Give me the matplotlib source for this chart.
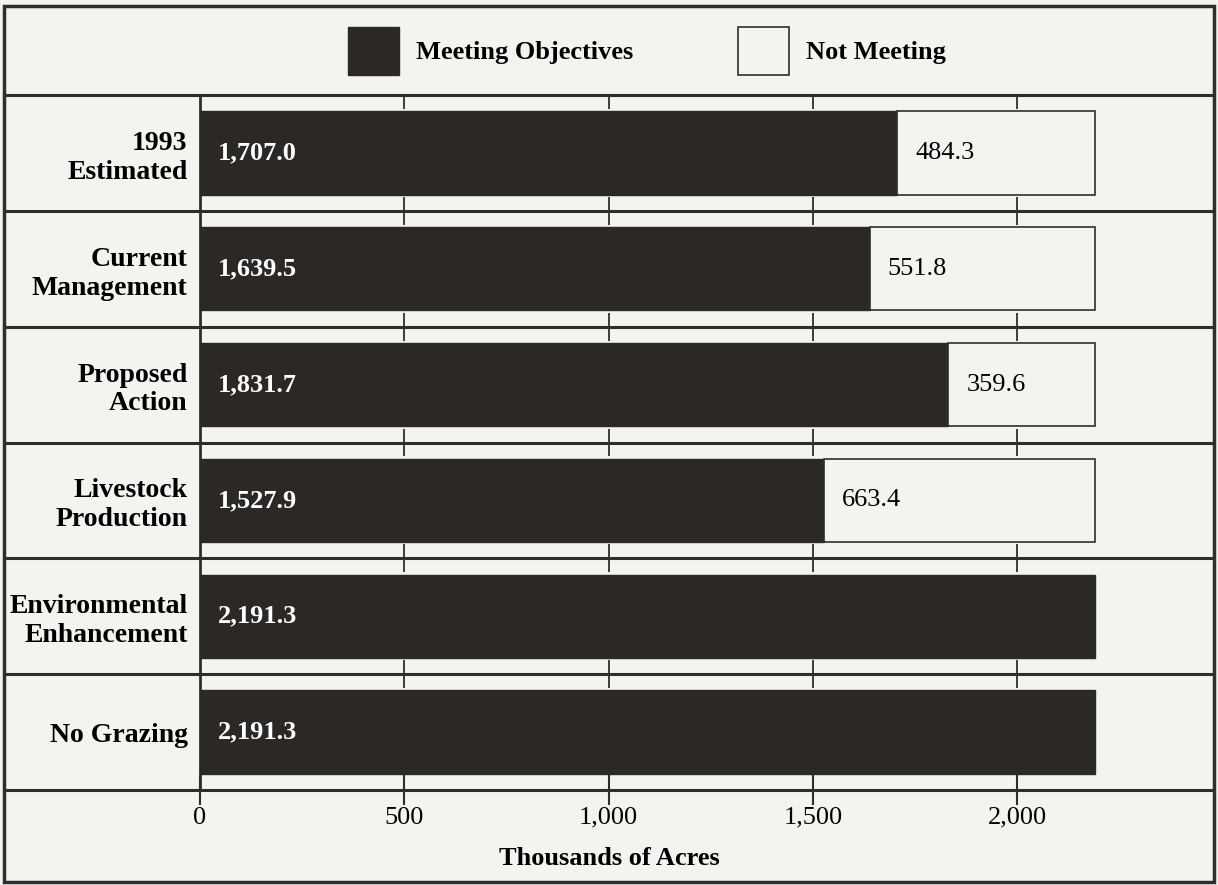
import numpy as np
import matplotlib.pyplot as plt
from matplotlib.patches import Patch, Rectangle

# data (thousands of acres)
categories = ['1993\nEstimated', 'Current\nManagement', 'Proposed\nAction',
              'Livestock\nProduction', 'Environmental\nEnhancement', 'No Grazing']
meeting = [1707.0, 1639.5, 1831.7, 1527.9, 2191.3, 2191.3]
not_meeting = [484.3, 551.8, 359.6, 663.4, 0.0, 0.0]
xticks = [0, 500, 1000, 1500, 2000]
xtick_labels = ['0', '500', '1,000', '1,500', '2,000']

plt.rcParams['font.family'] = ['Liberation Serif', 'DejaVu Serif']
plt.rcParams['font.size'] = 19

bg = '#f3f3ef'
dark = '#2b2826'
line_c = '#2e2e2e'

W, H = 1218, 885
fig = plt.figure(figsize=(W / 100, H / 100), dpi=100, facecolor=bg)

# plot area: x from 200px to 1214px, y from 95px to 790px (top-down)
ax = fig.add_axes([200 / W, (H - 790) / H, (1214 - 200) / W, (790 - 95) / H])
ax.set_facecolor(bg)
ax.set_xlim(0, 2482)
ax.set_ylim(len(categories) - 0.5, -0.5)

y = np.arange(len(categories))
bh = 0.72
ax.barh(y, meeting, height=bh, color=dark, edgecolor=dark, linewidth=1, zorder=3)
nm = np.array(not_meeting)
ax.barh(y[nm > 0], nm[nm > 0], left=np.array(meeting)[nm > 0], height=bh,
        color=bg, edgecolor=line_c, linewidth=1.2, zorder=3)

for i in range(len(categories)):
    ax.annotate(f'{meeting[i]:,.1f}', (0, i), xytext=(13, 0), textcoords='offset points',
                ha='left', va='center', color='white', fontweight='bold', zorder=4)
    if not_meeting[i] > 0:
        ax.annotate(f'{not_meeting[i]:,.1f}', (meeting[i], i), xytext=(13, 0),
                    textcoords='offset points', ha='left', va='center', color='black', zorder=4)

# spines / separators
for s in ['top', 'right', 'bottom']:
    ax.spines[s].set_visible(False)
ax.spines['left'].set_color(line_c)
ax.spines['left'].set_linewidth(2)

left_frac = (4 - 200) / (1214 - 200)
seps = np.arange(-0.5, len(categories) + 0.5, 1.0)
ax.hlines(seps, left_frac, 1, transform=ax.get_yaxis_transform(), clip_on=False,
          color=line_c, linewidth=2.2, zorder=5)

# little ticks crossing each separator
for s in seps[:-1]:
    lo = s - 0.12 if s > -0.5 else s
    ax.vlines(xticks[1:], lo, s + 0.12, color=line_c, linewidth=1.3, zorder=1)

ax.set_xticks(xticks, xtick_labels)
ax.tick_params(axis='x', direction='inout', length=22, width=1.5, color=line_c, pad=1)
ax.set_yticks(y, categories)
ax.tick_params(axis='y', length=0, pad=9)
for lab in ax.get_yticklabels():
    lab.set_fontweight('bold')
    lab.set_fontsize(20)
    lab.set_linespacing(1.2)

ax.set_xlabel('Thousands of Acres', fontweight='bold')
ax.xaxis.set_label_coords((609 - 200) / (1214 - 200), -0.082)

# legend in top band
handles = [Patch(facecolor=dark, edgecolor=dark), Patch(facecolor=bg, edgecolor=line_c, linewidth=1.2)]
fig.legend(handles, ['Meeting Objectives', 'Not Meeting'], ncol=2, loc='center',
           bbox_to_anchor=(647 / W, 1 - 51 / H), frameon=False,
           prop={'weight': 'bold', 'size': 19}, handlelength=1.9, handleheight=2.4,
           handletextpad=0.65, columnspacing=4.0)

# outer frame
fig.patches.append(Rectangle((4 / W, 3 / H), (1214 - 4) / W, (879 - 3) / H,
                             transform=fig.transFigure, fill=False,
                             edgecolor=line_c, linewidth=2.5, zorder=10))

fig.savefig('out.png', dpi=100, facecolor=bg)
